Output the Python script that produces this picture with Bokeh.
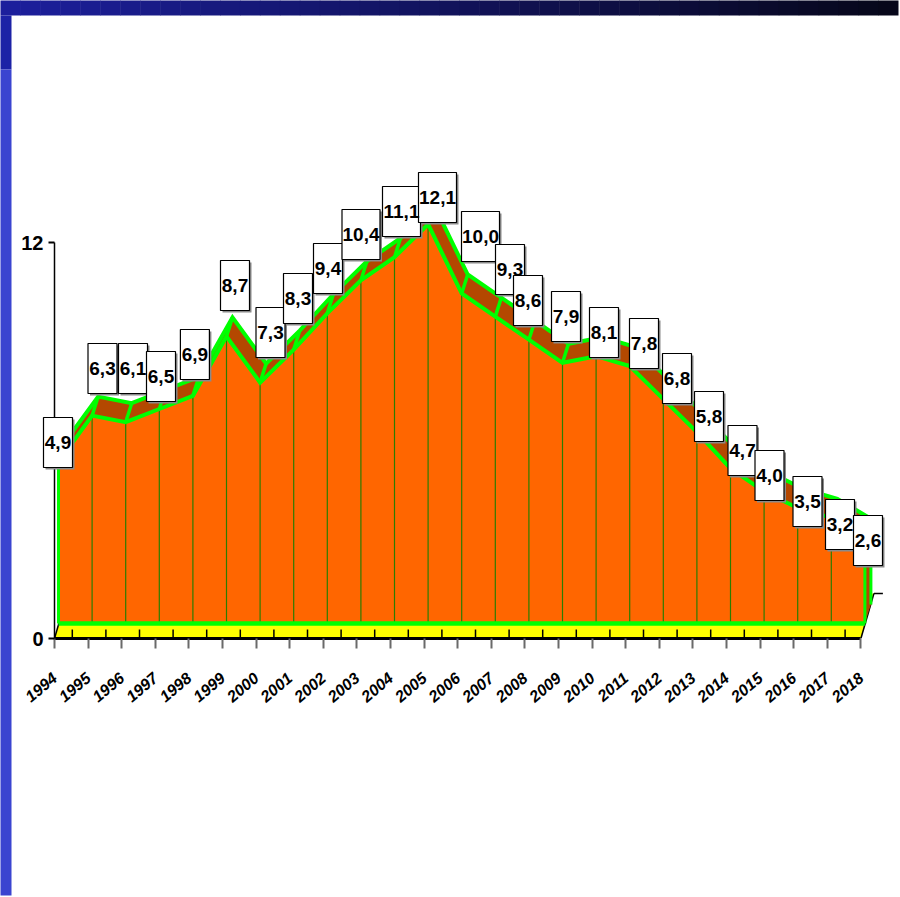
import math
from bokeh.plotting import figure
from bokeh.models import FixedTicker, Range1d
from bokeh.core.properties import value
from bokeh.embed import file_html
from bokeh.resources import INLINE

# ---------------- data ----------------
years = [1994, 1995, 1996, 1997, 1998, 1999, 2000, 2001, 2002, 2003, 2004, 2005,
         2006, 2007, 2008, 2009, 2010, 2011, 2012, 2013, 2014, 2015, 2016, 2017, 2018]
values = [4.9, 6.3, 6.1, 6.5, 6.9, 8.7, 7.3, 8.3, 9.4, 10.4, 11.1, 12.1,
          10.0, 9.3, 8.6, 7.9, 8.1, 7.8, 6.8, 5.8, 4.7, 4.0, 3.5, 3.2, 2.6]
value_labels = ["4,9", "6,3", "6,1", "6,5", "6,9", "8,7", "7,3", "8,3", "9,4", "10,4", "11,1", "12,1",
                "10,0", "9,3", "8,6", "7,9", "8,1", "7,8", "6,8", "5,8", "4,7", "4,0", "3,5", "3,2", "2,6"]
y_ticks = [0, 12]

# label box nudges in screen pixels (box centre x from point, box bottom y from point, +down)
label_dx = [-0.5, 10.4, 7.3, 1.7, 2.0, 8.5, 10.4, 4.3, 0.7, 0.1, 7.0, 9.4,
            18.8, 14.7, -0.9, 3.5, 7.9, 14.3, 13.7, 12.1, 12.0, 5.4, 9.8, 8.7, 3.1]
label_dy = [5.7, -22.1, -28.7, -7.5, -16.3, -25.9, -25.1, -26.1, -19.8, -20.8, -20.7, -1.7,
            -32.0, -22.1, -14.2, -21.3, 1.3, 2.4, 4.4, 9.4, 7.1, 9.0, 18.5, 31.6, 27.8]

# ---------------- geometry / style ----------------
W, H = 899, 896
PX_X, PX_Y = 33.6, 33.0          # pixels per year / per unit
AX_LEFT, AX_BOTTOM = 54, 638      # canvas position of axes
FONT = "Liberation Sans"

sx, sy = 4 / PX_X, 15 / PX_Y      # front face offset (3D)
dx, dy = 6 / PX_X, 19 / PX_Y      # depth of the series
fdx, fdy = 13 / PX_X, 45 / PX_Y   # depth of the floor

ORANGE = "#ff6600"
BROWN = "#b44800"
GREEN = "#00ff00"
DKGREEN = "#2b7d00"
YELLOW = "#ffff00"

x0 = years[0]
x_end = x0 + (W - AX_LEFT) / PX_X
y_end = AX_BOTTOM / PX_Y


def cxd(px):  # canvas px -> data x
    return x0 + (px - AX_LEFT) / PX_X


def cyd(py):  # canvas px -> data y
    return (AX_BOTTOM - py) / PX_Y


p = figure(width=W, height=H, x_range=Range1d(x0, x_end), y_range=Range1d(0, y_end),
           output_backend="svg", toolbar_location=None, title=None,
           min_border_left=AX_LEFT, min_border_right=0, min_border_top=0,
           min_border_bottom=H - AX_BOTTOM)
p.outline_line_color = None
p.xgrid.visible = False
p.ygrid.visible = False
p.background_fill_color = "white"
p.border_fill_color = "white"

# ---------------- decoration bars (page frame) ----------------
n = 45
c0, c1 = (28, 31, 156), (7, 7, 26)
bl, br, bt, bb, bc = [], [], [], [], []
for k in range(n):
    t = k / (n - 1)
    bc.append("#%02x%02x%02x" % tuple(int(round(a + (b - a) * t)) for a, b in zip(c0, c1)))
    bl.append(cxd((W - 1) * k / n))
    br.append(cxd(min(W - 1, (W - 1) * (k + 1) / n + 0.5)))
    bt.append(cyd(0))
    bb.append(cyd(15))
bl += [cxd(0), cxd(0)]
br += [cxd(11), cxd(11)]
bt += [cyd(15), cyd(69)]
bb += [cyd(69), cyd(H - 1)]
bc += ["#1c22a6", "#3a44d0"]
rb = p.quad(left=bl, right=br, top=bt, bottom=bb, fill_color=bc, line_color=None)
rb.level = "overlay"

# ---------------- floor ----------------
x1 = years[-1]
p.patch([x0, x1, x1 + fdx, x0 + fdx], [0, 0, fdy, fdy], fill_color=YELLOW, line_color=None)
p.segment(x0=[x0, x1], y0=[0, 0], x1=[x0 + fdx, x1 + fdx], y1=[fdy, fdy],
          line_color="black", line_width=1.5)
p.segment(x0=[x1 + fdx], y0=[fdy], x1=[x1 + fdx + 9 / PX_X], y1=[fdy],
          line_color="black", line_width=1.5)
ft = [y + 0.5 + 1 / PX_X for y in years[:-1]]
p.segment(x0=ft, y0=[0] * len(ft), x1=ft, y1=[9 / PX_Y] * len(ft), line_color="black", line_width=1.5)

# ---------------- 3D area ----------------
xf = [y + sx for y in years]
yf = [v + sy for v in values]
xb = [x + dx for x in xf]
yb = [v + dy for v in yf]
base = sy

# top surface
qx = [[xf[i], xf[i + 1], xb[i + 1], xb[i]] for i in range(len(years) - 1)]
qy = [[yf[i], yf[i + 1], yb[i + 1], yb[i]] for i in range(len(years) - 1)]
p.patches(qx, qy, fill_color=BROWN, line_color=None)
# right side face
p.patch([xf[-1], xb[-1], xb[-1], xf[-1]], [base, base + dy, yb[-1], yf[-1]],
        fill_color=BROWN, line_color=None)
# front face
p.varea(x=xf, y1=[base] * len(xf), y2=yf, fill_color=ORANGE)
# drop lines on front face
p.segment(x0=xf[1:-1], y0=[base] * (len(xf) - 2), x1=xf[1:-1], y1=yf[1:-1],
          line_color=DKGREEN, line_width=1.2)
# green edges
p.line(xb, yb, line_color=GREEN, line_width=4, line_join="miter")
p.segment(x0=xf, y0=yf, x1=xb, y1=yb, line_color=GREEN, line_width=3.5)
p.line(xf, yf, line_color=GREEN, line_width=4, line_join="miter")
p.line([xf[0], xf[-1]], [base, base], line_color=GREEN, line_width=4.5)
p.segment(x0=[xf[0], xf[-1], xb[-1]], y0=[base, base, base + dy], x1=[xf[0], xf[-1], xb[-1]],
          y1=[yf[0], yf[-1], yb[-1]], line_color=GREEN, line_width=3)

# ---------------- value labels ----------------
BOX_H = 50
bw = [29 if len(s) <= 3 else 38 for s in value_labels]
cx = [xf[i] + label_dx[i] / PX_X for i in range(len(years))]
cy = [yf[i] - (label_dy[i] - BOX_H / 2) / PX_Y for i in range(len(years))]
r1 = p.rect(x=[c + 2 / PX_X for c in cx], y=[c - 2 / PX_Y for c in cy], width=bw, height=BOX_H,
            width_units="screen", height_units="screen", fill_color="#8a8a8a", line_color=None)
r2 = p.rect(x=cx, y=cy, width=bw, height=BOX_H, width_units="screen", height_units="screen",
            fill_color="white", line_color="black", line_width=1.2)
t1 = p.text(x=cx, y=cy, text=value_labels, text_align="center", text_baseline="middle",
            text_font=value(FONT), text_font_style="bold", text_font_size="19px", text_color="black")
for r in (r1, r2, t1):
    r.level = "overlay"

# ---------------- axes ----------------
xa = p.xaxis[0]
xa.ticker = FixedTicker(ticks=years)
xa.bounds = (years[0], years[-1])
xa.major_label_overrides = {y: str(y) for y in years}
xa.major_label_orientation = math.radians(40)
xa.major_tick_out = 10
xa.major_tick_in = 0
xa.minor_tick_line_color = None
xa.axis_line_width = 3
xa.axis_line_color = "black"
xa.major_tick_line_color = "#6a6a6a"
xa.major_tick_line_width = 2
xa.major_label_standoff = 27
xa.major_label_text_font = FONT
xa.major_label_text_font_style = "bold italic"
xa.major_label_text_font_size = "16px"
xa.major_label_text_color = "black"

ya = p.yaxis[0]
ya.ticker = FixedTicker(ticks=y_ticks)
ya.bounds = (y_ticks[0], y_ticks[-1])
ya.major_tick_out = 6
ya.major_tick_in = 0
ya.minor_tick_line_color = None
ya.axis_line_width = 1.5
ya.axis_line_color = "black"
ya.major_tick_line_color = "black"
ya.major_tick_line_width = 2
ya.major_label_standoff = 5
ya.major_label_text_font = FONT
ya.major_label_text_font_style = "bold"
ya.major_label_text_font_size = "20px"
ya.major_label_text_color = "black"

open("out.html", "w").write(file_html(p, INLINE))
